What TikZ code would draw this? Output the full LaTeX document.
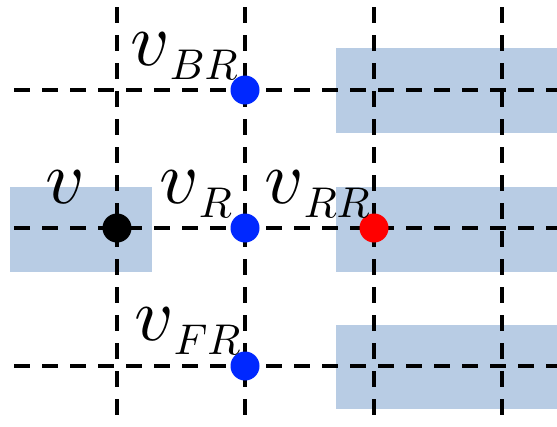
\documentclass[tikz,border=0pt]{standalone}
\usepackage{graphicx}
\definecolor{cellblue}{HTML}{B8CCE4}
\definecolor{dotblue}{HTML}{0028FF}
% vertex name: large italic v with an optional lowered subscript
\newcommand{\vname}[1]{\scalebox{7.6}{$v$}\ifx&#1&\else\kern0pt\raisebox{-14pt}{\scalebox{4.3}{$#1$}}\fi}
\tikzset{
  gridline/.style={line width=3.8pt, dash pattern=on 16pt off 12pt},
  cell/.style={fill=cellblue, draw=none},
  dot/.style={circle, minimum size=29pt, inner sep=0pt, draw=none},
  lbl/.style={anchor=base west, inner sep=0pt},
}
\begin{document}
\begin{tikzpicture}[x=1pt, y=-1pt]
  \useasboundingbox (0,0) rectangle (557,426);
  % shaded cells
  \fill[cell] (336,48) rectangle (557,133);
  \fill[cell] (10,187) rectangle (152,272);
  \fill[cell] (336,187) rectangle (557,272);
  \fill[cell] (336,325) rectangle (557,409);
  % grid of dashed lines
  \foreach \gx in {117,245,374,502}
    \draw[gridline] (\gx,7) -- (\gx,416);
  \foreach \gy in {90,228,366}
    \draw[gridline] (14,\gy) -- (557,\gy);
  % vertices
  \node[dot, fill=black]   (v)   at (117,228) {};
  \node[dot, fill=dotblue] (vBR) at (245,90)  {};
  \node[dot, fill=dotblue] (vR)  at (245,228) {};
  \node[dot, fill=dotblue] (vFR) at (245,366) {};
  \node[dot, fill=red]     (vRR) at (374,228) {};
  % labels
  \node[lbl] (lv)   at (45,203)  {\vname{}};
  \node[lbl] (lvR)  at (159,203) {\vname{R}};
  \node[lbl] (lvRR) at (264,203) {\vname{RR}};
  \node[lbl] (lvBR) at (130,65)  {\vname{BR}};
  \node[lbl] (lvFR) at (134,340) {\vname{FR}};
\end{tikzpicture}
\end{document}
